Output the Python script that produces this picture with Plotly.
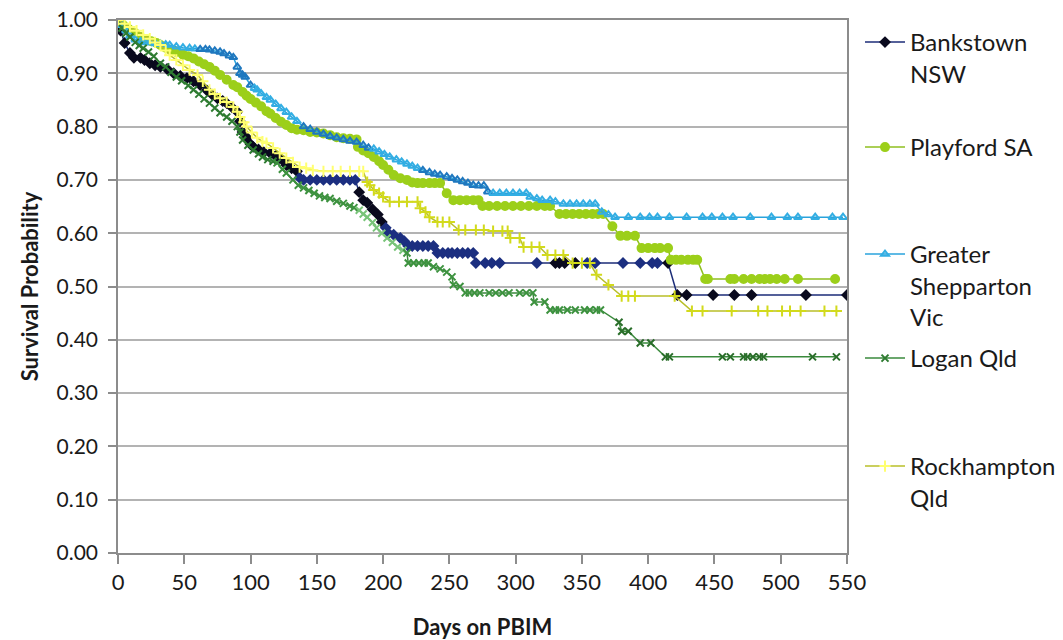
import plotly.graph_objects as go

# ---------------- data ----------------
bank_days = [0,2,5,9,12,17,20,24,28,32,37,42,47,52,57,62,67,71,75,79,82,86,90,92,94,97,100,102,106,110,115,119,122,125,127,131,135,137,140,145,150,155,160,165,170,175,179,182,185,188,192,196,199,202,204,208,213,216,219,222,226,230,234,238,241,245,249,252,256,260,264,268,270,277,282,288,316,330,333,337,345,354,360,381,394,403,407,415,422,429,449,465,478,519,550]
bank_surv = [1.00,0.98,0.957,0.938,0.929,0.929,0.925,0.919,0.915,0.912,0.908,0.90,0.895,0.891,0.885,0.878,0.868,0.86,0.853,0.848,0.844,0.836,0.828,0.81,0.79,0.78,0.767,0.762,0.757,0.752,0.75,0.745,0.741,0.735,0.728,0.722,0.716,0.704,0.70,0.70,0.70,0.70,0.70,0.70,0.70,0.70,0.70,0.677,0.662,0.657,0.645,0.635,0.621,0.61,0.60,0.597,0.591,0.585,0.576,0.576,0.576,0.576,0.576,0.576,0.563,0.563,0.563,0.563,0.563,0.563,0.563,0.563,0.544,0.544,0.544,0.544,0.544,0.544,0.544,0.544,0.544,0.544,0.544,0.544,0.544,0.544,0.544,0.544,0.484,0.484,0.484,0.484,0.484,0.484,0.484]

play_days = [0,4,8,13,17,21,25,29,32,36,40,44,49,53,57,61,65,69,73,77,82,87,90,94,97,100,104,108,112,115,119,123,127,131,135,140,145,150,155,160,165,170,175,180,181,185,189,193,197,200,204,208,213,218,222,226,230,235,239,243,248,253,258,263,268,272,275,280,286,292,298,304,310,316,322,326,333,338,343,348,353,358,362,366,373,379,384,390,395,400,405,409,415,417,421,425,430,434,437,443,445,462,465,472,478,484,488,492,497,503,513,541]
play_surv = [1.00,0.99,0.983,0.975,0.968,0.963,0.96,0.957,0.953,0.948,0.944,0.94,0.935,0.932,0.928,0.922,0.917,0.912,0.905,0.897,0.888,0.878,0.874,0.865,0.858,0.852,0.845,0.838,0.829,0.824,0.816,0.809,0.803,0.797,0.794,0.793,0.79,0.789,0.787,0.784,0.78,0.778,0.777,0.776,0.762,0.755,0.75,0.743,0.735,0.728,0.719,0.709,0.703,0.70,0.695,0.694,0.694,0.694,0.694,0.694,0.675,0.662,0.662,0.662,0.662,0.662,0.651,0.651,0.651,0.651,0.651,0.651,0.651,0.651,0.651,0.651,0.636,0.636,0.636,0.636,0.636,0.636,0.636,0.636,0.613,0.595,0.595,0.595,0.572,0.572,0.572,0.572,0.572,0.55,0.55,0.55,0.55,0.55,0.55,0.514,0.514,0.514,0.514,0.514,0.514,0.514,0.514,0.514,0.514,0.514,0.514,0.514]

shep_days = [0,3,6,9,13,17,20,24,28,32,36,39,44,49,54,58,62,66,69,73,77,80,84,87,90,92,94,96,100,103,105,108,112,115,119,123,127,131,135,140,145,150,155,160,165,170,175,180,185,189,193,197,201,205,210,214,218,222,226,230,235,239,243,248,252,256,260,264,268,272,276,279,283,288,293,298,303,308,311,316,320,326,330,336,341,346,351,356,360,365,370,375,385,394,401,407,416,429,441,448,456,464,477,493,505,513,526,539,547]
shep_surv = [1.00,0.99,0.98,0.97,0.963,0.96,0.958,0.958,0.956,0.955,0.954,0.953,0.95,0.948,0.947,0.946,0.945,0.945,0.944,0.942,0.94,0.937,0.933,0.93,0.912,0.90,0.897,0.893,0.878,0.872,0.869,0.862,0.855,0.85,0.842,0.834,0.827,0.818,0.81,0.80,0.795,0.79,0.786,0.782,0.779,0.776,0.773,0.771,0.765,0.76,0.758,0.753,0.748,0.743,0.738,0.734,0.73,0.726,0.722,0.718,0.714,0.711,0.709,0.706,0.703,0.70,0.697,0.694,0.69,0.689,0.689,0.678,0.675,0.675,0.675,0.675,0.675,0.675,0.668,0.665,0.662,0.662,0.659,0.655,0.655,0.655,0.655,0.655,0.655,0.64,0.635,0.63,0.63,0.63,0.63,0.63,0.63,0.63,0.63,0.63,0.63,0.63,0.63,0.63,0.63,0.63,0.63,0.63,0.63]

logan_days = [0,3,6,9,13,16,19,23,27,32,36,40,44,48,53,57,61,65,69,73,77,82,86,90,92,94,98,102,106,109,113,117,120,124,127,132,136,140,144,148,152,156,160,165,170,175,178,182,185,188,192,195,199,203,207,211,215,218,219,223,227,231,234,238,243,248,252,253,258,262,265,269,273,280,285,290,295,303,308,313,314,322,326,330,333,339,345,352,356,361,364,378,380,385,394,402,413,416,456,462,472,475,479,484,487,524,542]
logan_surv = [0.993,0.985,0.975,0.968,0.958,0.952,0.947,0.94,0.932,0.919,0.912,0.902,0.893,0.886,0.877,0.869,0.861,0.852,0.844,0.835,0.826,0.818,0.81,0.80,0.79,0.775,0.765,0.756,0.749,0.743,0.738,0.735,0.732,0.72,0.713,0.70,0.69,0.685,0.68,0.675,0.67,0.667,0.665,0.66,0.656,0.651,0.648,0.643,0.636,0.63,0.62,0.61,0.60,0.591,0.583,0.574,0.568,0.563,0.544,0.544,0.544,0.544,0.544,0.537,0.533,0.527,0.518,0.503,0.50,0.488,0.488,0.488,0.488,0.488,0.488,0.488,0.488,0.488,0.488,0.488,0.471,0.471,0.456,0.456,0.456,0.456,0.456,0.456,0.456,0.456,0.456,0.433,0.416,0.416,0.394,0.394,0.368,0.368,0.368,0.368,0.368,0.368,0.368,0.368,0.368,0.368,0.368]

rock_days = [0,5,9,14,19,24,28,32,36,39,44,49,54,60,64,69,73,77,82,87,90,92,95,97,101,105,109,112,117,122,127,132,137,142,147,155,162,168,175,182,185,188,190,193,197,200,205,212,218,226,228,232,235,241,245,250,257,262,270,276,283,290,294,296,303,306,312,318,324,330,336,343,350,356,361,370,380,385,390,420,433,441,463,483,490,501,507,515,533,542]
rock_surv = [1.00,0.993,0.987,0.98,0.972,0.965,0.958,0.953,0.943,0.934,0.925,0.915,0.906,0.897,0.885,0.869,0.861,0.853,0.846,0.837,0.828,0.818,0.808,0.80,0.789,0.779,0.772,0.769,0.76,0.75,0.741,0.733,0.724,0.722,0.718,0.716,0.716,0.716,0.716,0.716,0.716,0.696,0.69,0.681,0.675,0.668,0.659,0.659,0.659,0.659,0.647,0.64,0.63,0.621,0.621,0.621,0.606,0.606,0.606,0.606,0.604,0.604,0.604,0.591,0.591,0.574,0.574,0.574,0.559,0.559,0.559,0.544,0.544,0.544,0.522,0.503,0.482,0.482,0.482,0.482,0.454,0.454,0.454,0.454,0.454,0.454,0.454,0.454,0.454,0.454]

y_ticks = [0.0,0.1,0.2,0.3,0.4,0.5,0.6,0.7,0.8,0.9,1.0]
x_ticks = [0,50,100,150,200,250,300,350,400,450,500,550]

# ---------------- styling helpers ----------------
def bank_color(d):
    if d <= 136 or 181 <= d <= 200 or 328 <= d <= 346 or d >= 414:
        return "#0a0a1e"
    return "#1c2f80"

def rock_color(d):
    return "#ffff70" if d < 186 else "#d2da1c"

def logan_color(d):
    if d < 120:
        return "#2e7b31"
    if 180 <= d <= 216:
        return "#79c479"
    if d >= 370:
        return "#2a6e2a"
    return "#3d923f"

def shep_color(d):
    if 60 <= d <= 100 or 140 <= d <= 190 or 230 <= d <= 280:
        return "#1f78bf"
    return "#33aee3"

FONT = "Lato"
fig = go.Figure()

series = [
    ("Bankstown<br>NSW", bank_days, bank_surv, "#1c2d78", "diamond", [bank_color(d) for d in bank_days], "legend"),
    ("Playford SA", play_days, play_surv, "#8fbf1f", "circle", ["#9ccf1a"] * len(play_days), "legend2"),
    ("Greater<br>Shepparton<br>Vic", shep_days, shep_surv, "#2aa3dc", "triangle-up-open", [shep_color(d) for d in shep_days], "legend3"),
    ("Logan Qld", logan_days, logan_surv, "#3a8a3c", "x-thin-open", [logan_color(d) for d in logan_days], "legend4"),
    ("Rockhampton<br>Qld", rock_days, rock_surv, "#b9bf2a", "cross-thin-open", [rock_color(d) for d in rock_days], "legend5"),
]

sizes = {"diamond": 7, "circle": 8, "triangle-up-open": 7, "x-thin-open": 7, "cross-thin-open": 8}
for name, xs, ys, lc, sym, mc, lg in series:
    fig.add_trace(go.Scatter(
        x=xs, y=ys, name=name, mode="lines+markers",
        line=dict(color=lc, width=1.5),
        marker=dict(symbol=sym, size=sizes[sym], color=mc,
                    line=dict(color=mc, width=2)),
        legend=lg, showlegend=True,
    ))

leg_common = dict(font=dict(family=FONT, size=24, color="#1a1a1a"),
                  bgcolor="rgba(0,0,0,0)", valign="top", xanchor="left", yanchor="top",
                  itemwidth=40, visible=True)

def py(px):
    return (553 - px) / 533.0

LX = 1.0 + 13 / 729.0

fig.update_layout(
    width=1063, height=640,
    showlegend=True,
    margin=dict(l=118, r=216, t=20, b=87, autoexpand=False),
    paper_bgcolor="white", plot_bgcolor="white",
    font=dict(family=FONT, color="#1a1a1a"),
    legend=dict(x=LX, y=py(20), **leg_common),
    legend2=dict(x=LX, y=py(125), **leg_common),
    legend3=dict(x=LX, y=py(232), **leg_common),
    legend4=dict(x=LX, y=py(336), **leg_common),
    legend5=dict(x=LX, y=py(444), **leg_common),
    xaxis=dict(
        range=[0, 550], tickvals=x_ticks, ticktext=[str(v) for v in x_ticks],
        showgrid=False, zeroline=False, automargin=False,
        showline=True, linecolor="#8c8c8c", linewidth=1.5, mirror=True,
        ticks="outside", ticklen=9, tickcolor="#8c8c8c", tickwidth=1.5,
        tickfont=dict(family=FONT, size=22, color="#1a1a1a"),
        title=dict(text="<b>Days on PBIM</b>", font=dict(family=FONT, size=22, color="#1a1a1a"), standoff=26),
    ),
    yaxis=dict(
        range=[0, 1.0], tickvals=y_ticks, ticktext=[f"{v:.2f}" for v in y_ticks],
        showgrid=True, gridcolor="#b3b3b3", gridwidth=1.5, zeroline=False, automargin=False,
        showline=True, linecolor="#8c8c8c", linewidth=1.5, mirror=True,
        ticks="outside", ticklen=8, tickcolor="#8c8c8c", tickwidth=1.5,
        ticklabelstandoff=6,
        tickfont=dict(family=FONT, size=21, color="#1a1a1a"),
        title=dict(text="<b>Survival Probability</b>", font=dict(family=FONT, size=22, color="#1a1a1a"), standoff=12),
    ),
)

fig.write_html("out.html")
